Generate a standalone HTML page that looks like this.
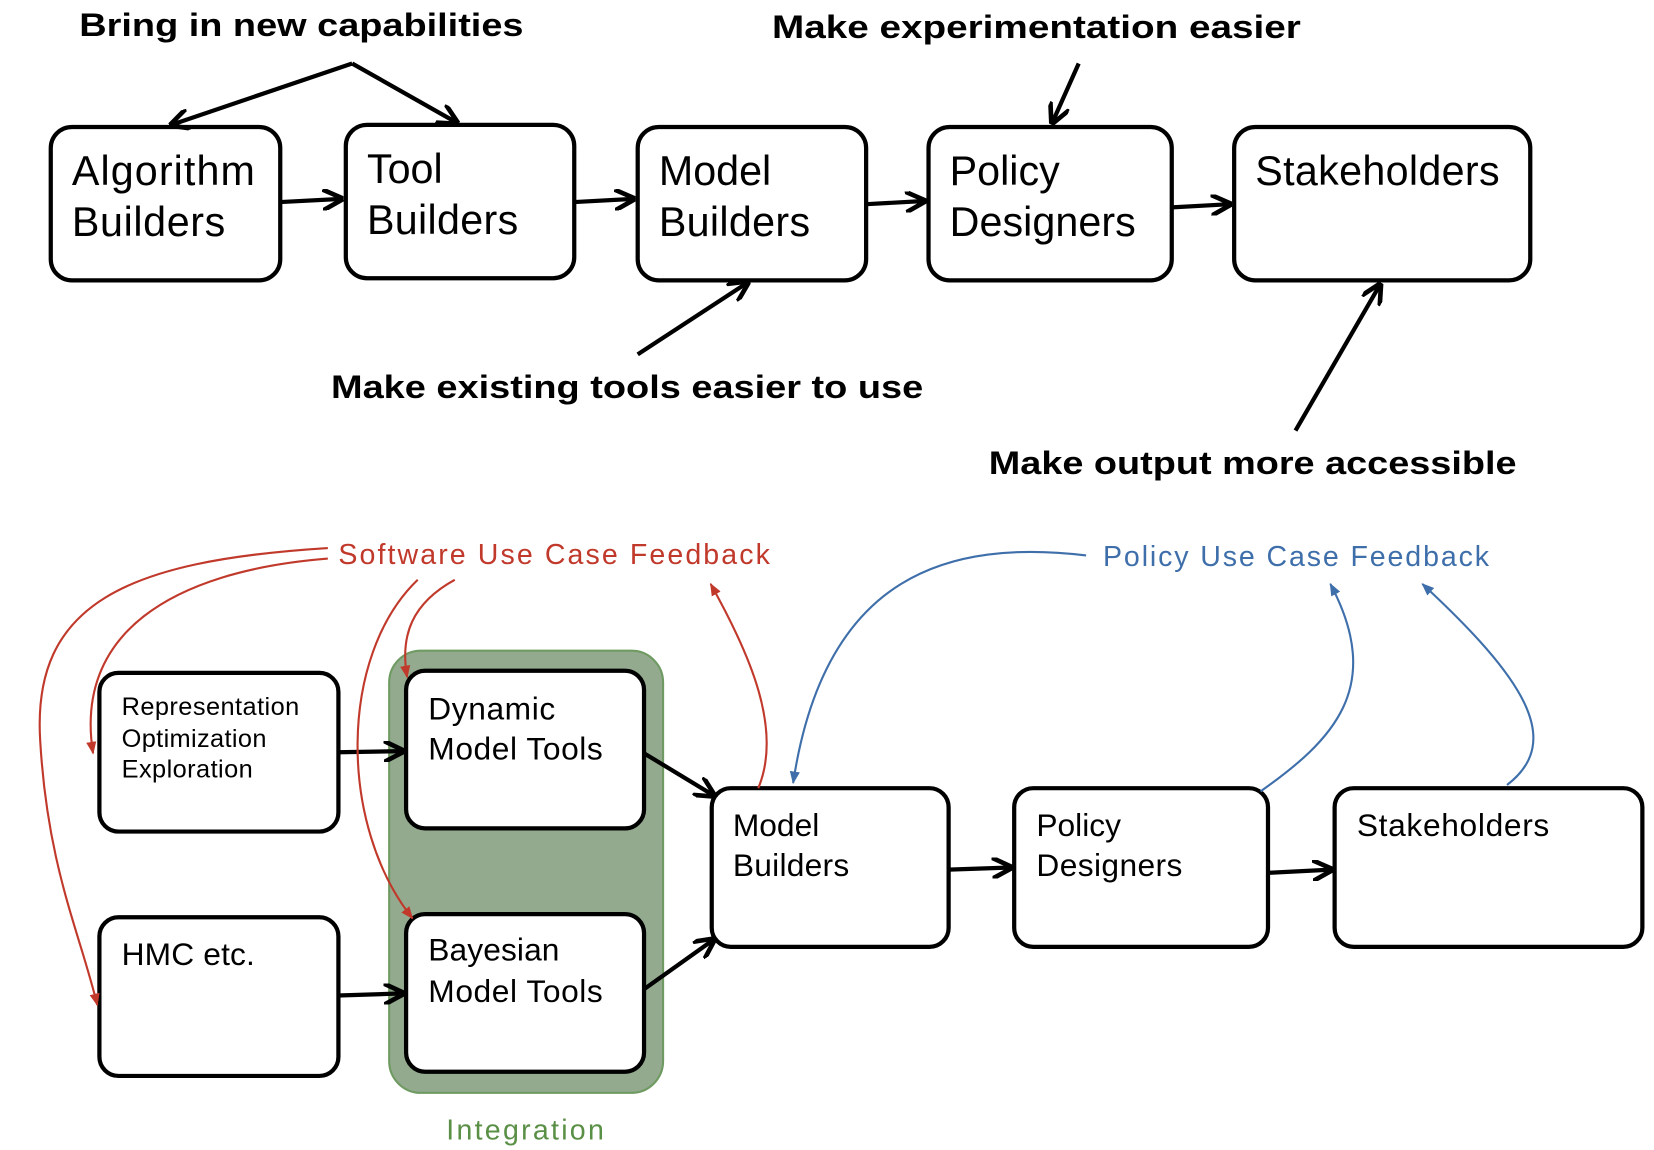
<!DOCTYPE html>
<html><head><meta charset="utf-8"><style>
html,body{margin:0;padding:0;background:#fff;}
svg{display:block;}
text{font-family:"Liberation Sans",sans-serif;}
</style></head><body>
<svg width="1654" height="1150" viewBox="0 0 1564 1087" preserveAspectRatio="none" xmlns="http://www.w3.org/2000/svg">
<defs>
<marker id="ak" viewBox="0 0 10 10" refX="9" refY="5" markerWidth="5" markerHeight="5" orient="auto"><path d="M0,0 L10,5 L0,10" fill="none" stroke="#000" stroke-width="2.2"/></marker>
<marker id="ar" viewBox="0 0 10 10" refX="9" refY="5" markerWidth="6" markerHeight="6" orient="auto"><path d="M0,1 L10,5 L0,9 z" fill="#c0392b"/></marker>
<marker id="ab" viewBox="0 0 10 10" refX="9" refY="5" markerWidth="6" markerHeight="6" orient="auto"><path d="M0,1 L10,5 L0,9 z" fill="#3f6faa"/></marker>
</defs>
<g fill="#fff" stroke="#000" stroke-width="4">
<rect x="48" y="120" width="217" height="145" rx="20"/>
<rect x="327" y="118" width="216" height="145" rx="20"/>
<rect x="603" y="120" width="216" height="145" rx="20"/>
<rect x="878" y="120" width="230" height="145" rx="20"/>
<rect x="1167" y="120" width="280" height="145" rx="20"/>
</g>
<g font-size="39" fill="#000">
<text x="68" y="175" textLength="173">Algorithm</text><text x="68" y="223" textLength="145">Builders</text>
<text x="347" y="173">Tool</text><text x="347" y="221" textLength="143">Builders</text>
<text x="623" y="175">Model</text><text x="623" y="223" textLength="143">Builders</text>
<text x="898" y="175">Policy</text><text x="898" y="223" textLength="176">Designers</text>
<text x="1187" y="175" textLength="231">Stakeholders</text>
</g>
<g stroke="#000" stroke-width="4" fill="none" marker-end="url(#ak)">
<line x1="265" y1="191" x2="323" y2="188"/>
<line x1="543" y1="191" x2="599" y2="188"/>
<line x1="819" y1="193" x2="874" y2="190"/>
<line x1="1108" y1="196" x2="1163" y2="193"/>
<line x1="333" y1="60" x2="162" y2="118"/>
<line x1="333" y1="60" x2="432" y2="116"/>
<line x1="1020" y1="60" x2="995" y2="116"/>
<line x1="603" y1="335" x2="707" y2="267"/>
<line x1="1225" y1="407" x2="1305" y2="269"/>
</g>
<g font-size="31" font-weight="bold" fill="#000">
<text x="75" y="34" textLength="420" lengthAdjust="spacingAndGlyphs">Bring in new capabilities</text>
<text x="730" y="36" textLength="500" lengthAdjust="spacingAndGlyphs">Make experimentation easier</text>
<text x="313" y="376" textLength="560" lengthAdjust="spacingAndGlyphs">Make existing tools easier to use</text>
<text x="935" y="448" textLength="499" lengthAdjust="spacingAndGlyphs">Make output more accessible</text>
</g>
<rect x="368" y="615" width="259" height="418" rx="30" fill="#93aa8f" stroke="#6f9a62" stroke-width="2"/>
<g fill="#fff" stroke="#000" stroke-width="4">
<rect x="94" y="636" width="226" height="150" rx="18"/>
<rect x="94" y="867" width="226" height="150" rx="18"/>
<rect x="384" y="634" width="225" height="149" rx="18"/>
<rect x="384" y="864" width="225" height="149" rx="18"/>
<rect x="673" y="745" width="224" height="150" rx="18"/>
<rect x="959" y="745" width="240" height="150" rx="18"/>
<rect x="1262" y="745" width="291" height="150" rx="18"/>
</g>
<g fill="#000">
<g font-size="24"><text x="115" y="676" textLength="168">Representation</text><text x="115" y="706" textLength="137">Optimization</text><text x="115" y="735" textLength="124">Exploration</text></g>
<g font-size="30">
<text x="115" y="912" textLength="126">HMC etc.</text>
<text x="405" y="680" textLength="120">Dynamic</text><text x="405" y="718" textLength="165">Model Tools</text>
<text x="405" y="908" textLength="124">Bayesian</text><text x="405" y="947" textLength="165">Model Tools</text>
<text x="693" y="790">Model</text><text x="693" y="828" textLength="110">Builders</text>
<text x="980" y="790">Policy</text><text x="980" y="828" textLength="138">Designers</text>
<text x="1283" y="790" textLength="182">Stakeholders</text>
</g></g>
<g stroke="#000" stroke-width="4" fill="none" marker-end="url(#ak)">
<line x1="320" y1="711" x2="381" y2="710"/>
<line x1="320" y1="941" x2="381" y2="939"/>
<line x1="609" y1="712" x2="675" y2="752"/>
<line x1="609" y1="935" x2="675" y2="888"/>
<line x1="897" y1="822" x2="956" y2="820"/>
<line x1="1199" y1="825" x2="1259" y2="822"/>
</g>
<text x="320" y="533" font-size="27" fill="#c0392b" textLength="408">Software Use Case Feedback</text>
<text x="1043" y="535" font-size="27" fill="#3f6faa" textLength="365">Policy Use Case Feedback</text>
<text x="422" y="1077" font-size="27" fill="#5a8f46" textLength="149">Integration</text>
<g stroke="#c0392b" stroke-width="2" fill="none" marker-end="url(#ar)">
<path d="M310,518 C120,530 30,570 38,700 C45,820 75,880 92,950"/>
<path d="M310,528 C160,540 70,600 88,712"/>
<path d="M395,548 C320,620 320,780 390,868"/>
<path d="M430,548 C390,570 378,600 385,640"/>
<path d="M717,745 C740,690 710,620 672,552"/>
</g>
<g stroke="#3f6faa" stroke-width="2" fill="none" marker-end="url(#ab)">
<path d="M1027,525 C900,510 780,540 750,740"/>
<path d="M1192,748 C1260,700 1310,650 1258,552"/>
<path d="M1425,742 C1480,700 1440,640 1345,552"/>
</g>
</svg>
</body></html>
